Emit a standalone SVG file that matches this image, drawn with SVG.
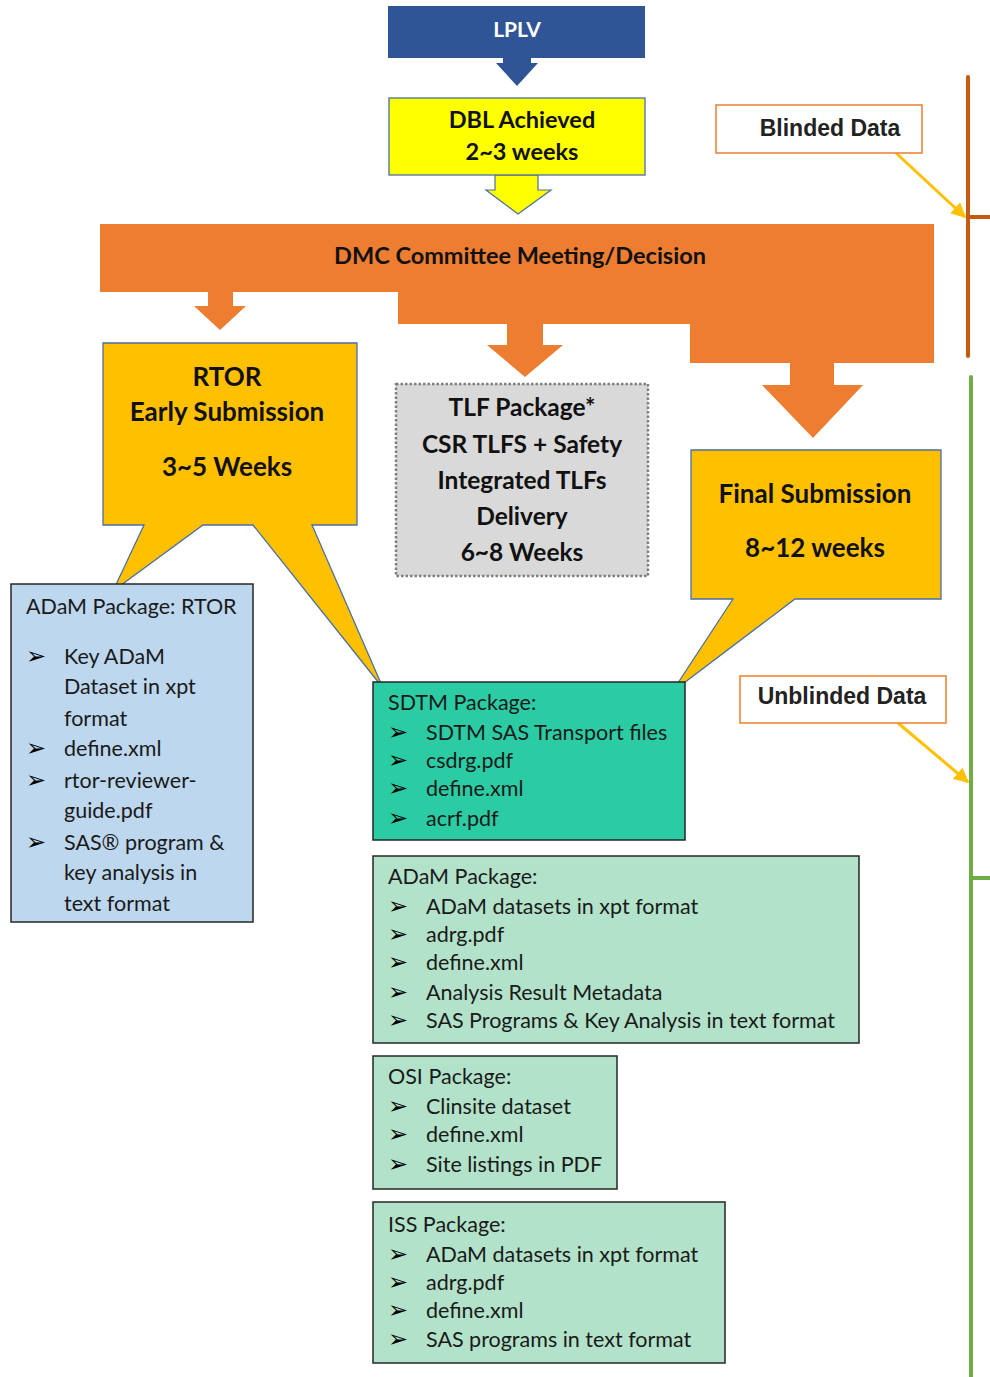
<svg xmlns="http://www.w3.org/2000/svg" width="990" height="1377" viewBox="0 0 990 1377">
<defs>
<marker id="yh" viewBox="0 0 10 10" refX="9" refY="5" markerWidth="5" markerHeight="5" orient="auto" markerUnits="strokeWidth">
<path d="M0,0 L10,5 L0,10 Z" fill="#FFC000"/>
</marker>
</defs>
<style>
.b{font-family:Lato,"Liberation Sans",sans-serif;font-weight:bold;fill:#111;text-anchor:middle}
.t{font-family:Lato,"Liberation Sans",sans-serif;font-size:21.5px;fill:#1a1a1a}
.bu{font-family:"DejaVu Sans",sans-serif;font-weight:bold;font-size:24px;fill:#000}
.ar{font-family:"Liberation Sans",Arial,sans-serif;font-weight:bold;font-size:23px;fill:#222;text-anchor:middle}
.pk{stroke:#262626;stroke-width:1.5}
.call{fill:#FFC000;stroke:#4A6FA5;stroke-width:1.3;stroke-linejoin:miter}
.org{fill:#ED7D31}
.ylw{stroke:#FFC000;stroke-width:3;fill:none}
</style>

<g id="connectors">
<polygon points="503,57 531,57 531,63 538,63 517,86 496,63 503,63" fill="#2F5597"/>
<polygon points="495,175 538,175 538,190 551,190 518,214 486,190 495,190" fill="#FFFF00" stroke="#4A6FA5" stroke-width="1.2"/>
<polygon class="org" points="208,290 233,290 233,306 246,306 220,330 194,306 208,306"/>
<polygon class="org" points="507,322 543,322 543,345 563,345 525,377 487,345 507,345"/>
<polygon class="org" points="790,361 834,361 834,385 863,385 813,438 762,385 790,385"/>
<line class="ylw" x1="896" y1="153" x2="965" y2="217" marker-end="url(#yh)"/>
<line class="ylw" x1="898" y1="723" x2="968" y2="782" marker-end="url(#yh)"/>
<path d="M968,77 V356 M968,217 H990" stroke="#C55A11" stroke-width="4" fill="none" stroke-linecap="round"/>
<path d="M971,377 V1377 M971,878 H990" stroke="#70AD47" stroke-width="4" fill="none" stroke-linecap="round"/>
</g>

<g id="lplv">
<rect x="388" y="6" width="257" height="52" fill="#2F5597"/>
<text x="517" y="37" class="b" style="fill:#fff;font-size:21px">LPLV</text>
</g>

<g id="dbl">
<rect x="389" y="98" width="256" height="77" fill="#FFFF00" stroke="#4A6FA5" stroke-width="1.3"/>
<text x="522" y="128" class="b" style="font-size:23.5px">DBL Achieved</text>
<text x="522" y="160" class="b" style="font-size:23.5px">2~3 weeks</text>
</g>

<g id="dmc">
<path class="org" d="M100,224 H934 V363 H690 V324 H398 V292 H100 Z"/>
<text x="520" y="264" class="b" style="font-size:23.5px">DMC Committee Meeting/Decision</text>
</g>

<g id="blinded">
<rect x="716" y="105" width="206" height="48" fill="#fff" stroke="#ED7D31" stroke-width="1.5"/>
<text x="830" y="136" class="ar">Blinded Data</text>
</g>

<g id="unblinded">
<rect x="740" y="676" width="206" height="47" fill="#fff" stroke="#ED7D31" stroke-width="1.5"/>
<text x="842" y="704" class="ar">Unblinded Data</text>
</g>

<g id="rtor">
<path class="call" d="M103,343 H357 V525 H312 L383,688 L253,525 H203 L113,591 L144,525 H103 Z"/>
<text x="227" y="386" class="b" style="font-size:26px">RTOR</text>
<text x="227" y="421" class="b" style="font-size:26px">Early Submission</text>
<text x="227" y="476" class="b" style="font-size:26px">3~5 Weeks</text>
</g>

<g id="tlf">
<rect x="396" y="384" width="252" height="192" fill="#D9D9D9" stroke="#7F7F7F" stroke-width="2.5" stroke-dasharray="2.5 2"/>
<text x="522" y="416" class="b" style="font-size:24.5px">TLF Package*</text>
<text x="522" y="453" class="b" style="font-size:24.5px">CSR TLFS + Safety</text>
<text x="522" y="489" class="b" style="font-size:24.5px">Integrated TLFs</text>
<text x="522" y="525" class="b" style="font-size:24.5px">Delivery</text>
<text x="522" y="561" class="b" style="font-size:24.5px">6~8 Weeks</text>
</g>

<g id="final">
<path class="call" d="M691,450 H941 V599 H795 L672,692 L733,599 H691 Z"/>
<text x="815" y="503" class="b" style="font-size:26px">Final Submission</text>
<text x="815" y="557" class="b" style="font-size:26px">8~12 weeks</text>
</g>

<g id="adam-rtor">
<rect class="pk" x="11" y="584" width="242" height="338" fill="#BDD7EE"/>
<text x="26" y="614" class="t">ADaM Package: RTOR</text>
<text x="26" y="664" class="bu">➢</text><text x="64" y="664" class="t">Key ADaM</text>
<text x="64" y="694" class="t">Dataset in xpt</text>
<text x="64" y="726" class="t">format</text>
<text x="26" y="756" class="bu">➢</text><text x="64" y="756" class="t">define.xml</text>
<text x="26" y="788" class="bu">➢</text><text x="64" y="788" class="t">rtor-reviewer-</text>
<text x="64" y="818" class="t">guide.pdf</text>
<text x="26" y="850" class="bu">➢</text><text x="64" y="850" class="t">SAS® program &amp;</text>
<text x="64" y="880" class="t">key analysis in</text>
<text x="64" y="911" class="t">text format</text>
</g>

<g id="sdtm">
<rect class="pk" x="373" y="682" width="312" height="158" fill="#2BCCA3"/>
<text x="388" y="710" class="t">SDTM Package:</text>
<text x="388" y="740" class="bu">➢</text><text x="426" y="740" class="t">SDTM SAS Transport files</text>
<text x="388" y="768" class="bu">➢</text><text x="426" y="768" class="t">csdrg.pdf</text>
<text x="388" y="796" class="bu">➢</text><text x="426" y="796" class="t">define.xml</text>
<text x="388" y="826" class="bu">➢</text><text x="426" y="826" class="t">acrf.pdf</text>
</g>

<g id="adam">
<rect class="pk" x="373" y="856" width="486" height="187" fill="#B3E2CB"/>
<text x="388" y="884" class="t">ADaM Package:</text>
<text x="388" y="914" class="bu">➢</text><text x="426" y="914" class="t">ADaM datasets in xpt format</text>
<text x="388" y="942" class="bu">➢</text><text x="426" y="942" class="t">adrg.pdf</text>
<text x="388" y="970" class="bu">➢</text><text x="426" y="970" class="t">define.xml</text>
<text x="388" y="1000" class="bu">➢</text><text x="426" y="1000" class="t">Analysis Result Metadata</text>
<text x="388" y="1028" class="bu">➢</text><text x="426" y="1028" class="t">SAS Programs &amp; Key Analysis in text format</text>
</g>

<g id="osi">
<rect class="pk" x="373" y="1056" width="244" height="133" fill="#B3E2CB"/>
<text x="388" y="1084" class="t">OSI Package:</text>
<text x="388" y="1114" class="bu">➢</text><text x="426" y="1114" class="t">Clinsite dataset</text>
<text x="388" y="1142" class="bu">➢</text><text x="426" y="1142" class="t">define.xml</text>
<text x="388" y="1172" class="bu">➢</text><text x="426" y="1172" class="t">Site listings in PDF</text>
</g>

<g id="iss">
<rect class="pk" x="373" y="1202" width="352" height="161" fill="#B3E2CB"/>
<text x="388" y="1232" class="t">ISS Package:</text>
<text x="388" y="1262" class="bu">➢</text><text x="426" y="1262" class="t">ADaM datasets in xpt format</text>
<text x="388" y="1290" class="bu">➢</text><text x="426" y="1290" class="t">adrg.pdf</text>
<text x="388" y="1318" class="bu">➢</text><text x="426" y="1318" class="t">define.xml</text>
<text x="388" y="1347" class="bu">➢</text><text x="426" y="1347" class="t">SAS programs in text format</text>
</g>
</svg>
